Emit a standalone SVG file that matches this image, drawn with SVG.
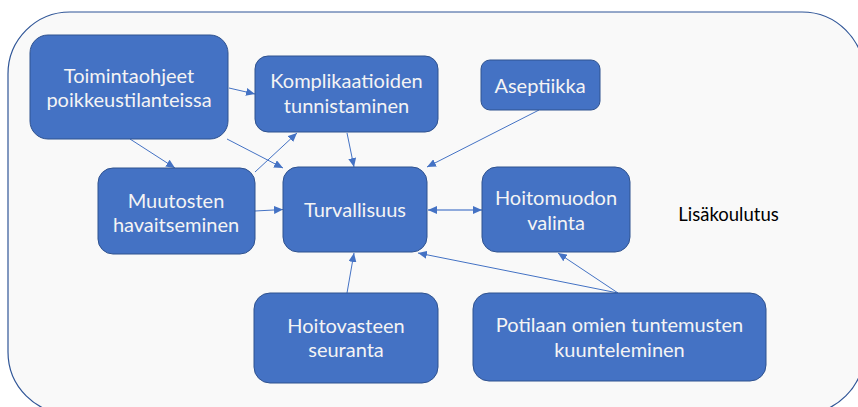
<svg xmlns="http://www.w3.org/2000/svg" width="858" height="407" viewBox="0 0 858 407">
<style>
.bg{fill:#f9f9f9;stroke:#2f5597;stroke-width:1.2}
.node rect{fill:#4472c4;stroke:#2f528f;stroke-width:1}
.node text{fill:#f4f4f4;font-family:Lato,"Open Sans",sans-serif;font-size:20px;text-anchor:middle}
.edge{stroke:#4472c4;stroke-width:1;fill:none;marker-end:url(#ah)}
.lbl{fill:#000;font-family:Lato,"Open Sans",sans-serif;font-size:18.5px;text-anchor:middle}
</style>
<defs>
<marker id="ah" markerUnits="userSpaceOnUse" markerWidth="10" markerHeight="8" refX="9" refY="4" orient="auto"><path d="M0,0 L9,4 L0,8 Z" fill="#4472c4"/></marker>
<marker id="ahs" markerUnits="userSpaceOnUse" markerWidth="10" markerHeight="8" refX="1" refY="4" orient="auto"><path d="M10,0 L1,4 L10,8 Z" fill="#4472c4"/></marker>
</defs>
<rect class="bg" x="8" y="12" width="856" height="402" rx="62"/>
<g id="connectors">
<line class="edge" x1="229" y1="88" x2="255" y2="94"/>
<line class="edge" x1="130" y1="139" x2="175" y2="168"/>
<line class="edge" x1="227" y1="139" x2="283" y2="168"/>
<line class="edge" x1="255" y1="172" x2="297" y2="133"/>
<line class="edge" x1="347" y1="133" x2="354" y2="167"/>
<line class="edge" x1="539" y1="110" x2="427" y2="167"/>
<line class="edge" x1="255" y1="211" x2="283" y2="209.5"/>
<line class="edge" x1="428" y1="210" x2="482" y2="210" style="stroke:#8faadc;stroke-width:2;marker-start:url(#ahs)"/>
<line class="edge" x1="347" y1="293" x2="354" y2="253"/>
<line class="edge" x1="618" y1="293" x2="418" y2="253"/>
<line class="edge" x1="618" y1="293" x2="558" y2="253"/>
</g>
<g id="n-toimintaohjeet" class="node"><rect x="30" y="35" width="198" height="104" rx="18"/><text x="129" y="83">Toimintaohjeet</text><text x="129" y="107">poikkeustilanteissa</text></g>
<g id="n-komplikaatioiden" class="node"><rect x="255" y="56" width="183" height="76" rx="13"/><text x="346.5" y="88">Komplikaatioiden</text><text x="346.5" y="113">tunnistaminen</text></g>
<g id="n-aseptiikka" class="node"><rect x="481" y="60" width="119" height="50" rx="9"/><text x="540" y="93">Aseptiikka</text></g>
<g id="n-muutosten" class="node"><rect x="98" y="168" width="157" height="86" rx="15"/><text x="176" y="208">Muutosten</text><text x="176" y="232">havaitseminen</text></g>
<g id="n-turvallisuus" class="node"><rect x="283" y="167" width="144" height="85" rx="15"/><text x="355" y="217">Turvallisuus</text></g>
<g id="n-hoitomuodon" class="node"><rect x="482" y="167" width="148" height="85" rx="15"/><text x="556" y="205">Hoitomuodon</text><text x="556" y="230">valinta</text></g>
<g id="n-hoitovasteen" class="node"><rect x="254" y="293" width="184" height="90" rx="16"/><text x="346" y="333">Hoitovasteen</text><text x="346" y="357">seuranta</text></g>
<g id="n-potilaan" class="node"><rect x="473" y="293" width="293" height="88" rx="16"/><text x="619.5" y="332">Potilaan omien tuntemusten</text><text x="619.5" y="357">kuunteleminen</text></g>
<text class="lbl" x="728.5" y="221">Lisäkoulutus</text>
</svg>
